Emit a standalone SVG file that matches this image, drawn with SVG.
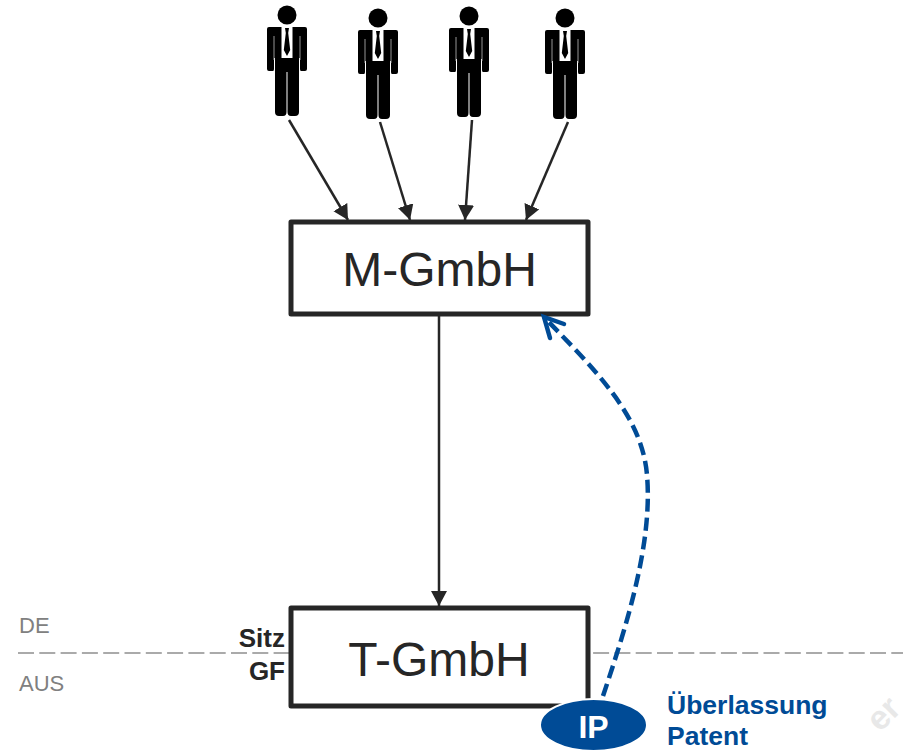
<svg xmlns="http://www.w3.org/2000/svg" width="921" height="750" viewBox="0 0 921 750">
<style>
text{font-family:"Liberation Sans",Arial,sans-serif}
.box{fill:#fff;stroke:#262626;stroke-width:5;stroke-linejoin:round}
.big{font-size:48px;fill:#262626;text-anchor:middle}
.lbl{font-size:26px;font-weight:bold;fill:#262626;text-anchor:end}
.de{font-size:22px;fill:#808080}
.blue{font-size:26.500px;font-weight:bold;fill:#004B96}
.conn{fill:none;stroke:#262626;stroke-width:2.500}
.sep{fill:none;stroke:#aaa;stroke-width:2;stroke-dasharray:16 5.3}
</style>
<defs>
<marker id="arr" markerUnits="userSpaceOnUse" markerWidth="17" markerHeight="18" refX="15" refY="8" orient="auto"><path d="M0 0L15 8L0 16Z" fill="#262626"/></marker>
<g id="person">
<circle cx="0" cy="15" r="9.500" fill="#000"/>
<path d="M-18 27H18Q20 27 20 29V69Q20 71 18 71H14Q13 71 13 69V58H12V112Q12 116 8 116H4Q0.500 116 0.500 112V72H-0.500V112Q-0.500 116-4 116H-8Q-12 116-12 112V58H-13V69Q-13 71-14 71H-18Q-20 71-20 69V29Q-20 27-18 27Z" fill="#000"/>
<path d="M-5.500 27H5.500V58H-5.500Z" fill="#fff"/>
<path d="M-2 28H2L1.200 33L3.200 50L0 56L-3.200 50L-1.200 33Z" fill="#000"/>
<path d="M-13 36V60M13 36V60" stroke="#bbb" stroke-width="0.800" fill="none"/>
</g>
</defs>
<text x="880" y="733" transform="rotate(-45 880 733)" font-size="34" font-weight="bold" fill="#e8e8e8">er</text>
<path class="sep" d="M18 653H903"/>
<g id="connectors">
<path class="conn" marker-end="url(#arr)" d="M289 120L348 220"/>
<path class="conn" marker-end="url(#arr)" d="M380 122L410 220"/>
<path class="conn" marker-end="url(#arr)" d="M472 120L465 220"/>
<path class="conn" marker-end="url(#arr)" d="M568 122L526 220"/>
<path class="conn" marker-end="url(#arr)" d="M439 316V606"/>
</g>
<g id="m-gmbh"><rect class="box" x="291" y="222" width="297" height="92"/><text class="big" x="439.500" y="286">M-GmbH</text></g>
<g id="t-gmbh"><rect class="box" x="291" y="608" width="297" height="98"/><text class="big" x="439" y="676">T-GmbH</text></g>
<g id="p1"><use href="#person" x="287"/></g>
<g id="p2"><use href="#person" x="378" y="3"/></g>
<g id="p3"><use href="#person" x="469" y="1"/></g>
<g id="p4"><use href="#person" x="565" y="3"/></g>
<text class="de" x="19" y="633">DE</text>
<text class="de" x="19" y="691">AUS</text>
<g id="sitz"><text class="lbl" x="285" y="647">Sitz</text><text class="lbl" x="285" y="680">GF</text></g>
<g id="ip-link">
<path d="M603 696C625 630 653 545 647 475C642 415 595 370 544 317" fill="none" stroke="#004B96" stroke-width="4.500" stroke-dasharray="13 6"/>
<path d="M550 338L544 317L564 324" fill="none" stroke="#004B96" stroke-width="4.500" stroke-linecap="round"/>
</g>
<g id="ip"><ellipse cx="593.500" cy="725" rx="53.500" ry="26" fill="#004B96" stroke="#fff" stroke-width="2"/><text x="593.500" y="738" font-size="32" font-weight="bold" fill="#fff" text-anchor="middle">IP</text></g>
<g id="ueberlassung"><text class="blue" x="667" y="714">Überlassung</text><text class="blue" x="667" y="745">Patent</text></g>
</svg>
